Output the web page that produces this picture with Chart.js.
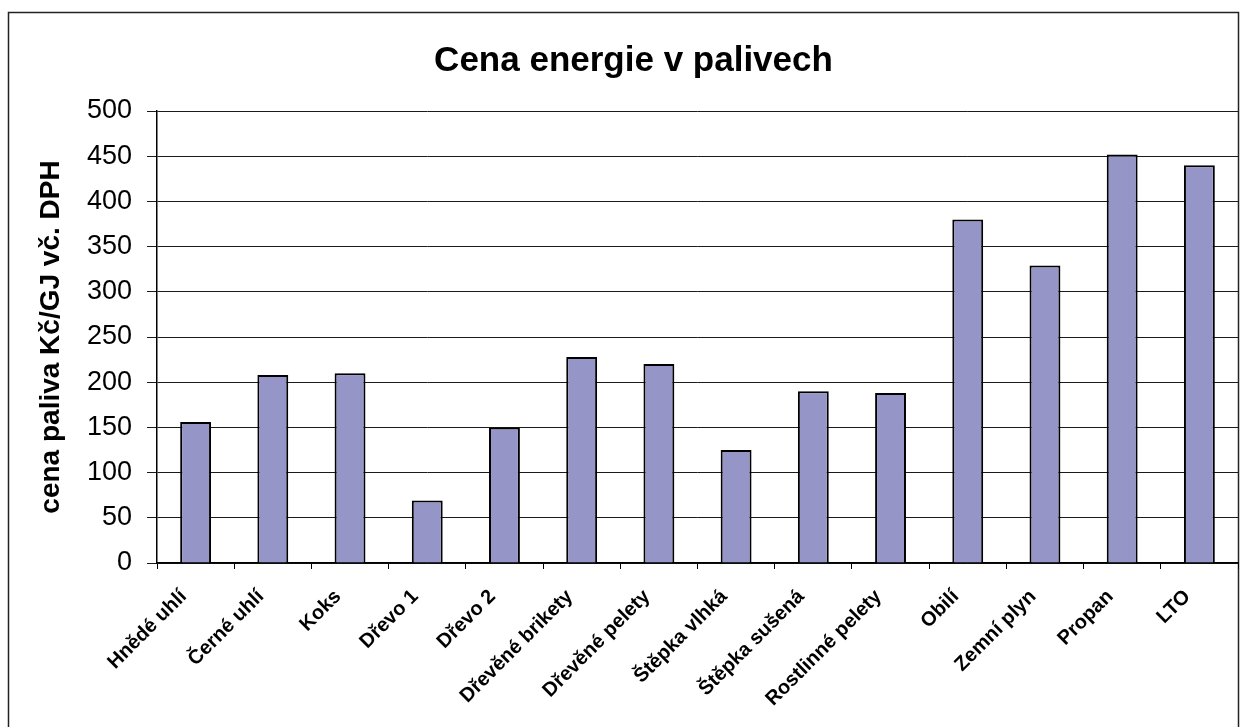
<!DOCTYPE html>
<html>
<head>
<meta charset="utf-8">
<title>Cena energie v palivech</title>
<script src="https://cdn.jsdelivr.net/npm/chart.js@4/dist/chart.umd.min.js"></script>
<style>
  html, body { margin: 0; padding: 0; background: #ffffff; }
  #wrap { width: 1241px; height: 727px; }
</style>
</head>
<body>
<div id="wrap"><canvas id="c" width="1241" height="727"></canvas></div>
<script>
// Fuel types and energy price (Kč per GJ incl. VAT)
const categories = [
  'Hnědé uhlí', 'Černé uhlí', 'Koks', 'Dřevo 1', 'Dřevo 2',
  'Dřevěné brikety', 'Dřevěné pelety', 'Štěpka vlhká', 'Štěpka sušená',
  'Rostlinné pelety', 'Obilí', 'Zemní plyn', 'Propan', 'LTO'
];
const prices = [156, 208, 210, 69, 150, 228, 220, 125, 190, 188, 380, 329, 452, 440];
const yTicks = [0, 50, 100, 150, 200, 250, 300, 350, 400, 450, 500];

const chartTitle = 'Cena energie v palivech';
const yAxisTitle = 'cena paliva Kč/GJ vč. DPH';

const FONT = "'Liberation Sans', Arial, sans-serif";

// Outer frame and white background
const framePlugin = {
  id: 'frame',
  beforeDraw(chart) {
    const ctx = chart.ctx;
    ctx.save();
    ctx.fillStyle = '#ffffff';
    ctx.fillRect(0, 0, chart.width, chart.height);
    ctx.strokeStyle = '#222222';
    ctx.lineWidth = 1.5;
    ctx.strokeRect(8.5, 12.5, 1230, 800);
    ctx.restore();
  }
};

// Chart heading, centred on the full chart frame
const headingPlugin = {
  id: 'heading',
  afterDraw(chart) {
    const ctx = chart.ctx;
    ctx.save();
    ctx.fillStyle = '#000000';
    ctx.font = "bold 35px " + FONT;
    ctx.textAlign = 'center';
    ctx.textBaseline = 'alphabetic';
    ctx.fillText(chartTitle, 633.5, 70.5);
    ctx.restore();
  }
};

new Chart(document.getElementById('c'), {
  type: 'bar',
  data: {
    labels: categories,
    datasets: [{
      data: prices,
      backgroundColor: '#9595C7',
      borderColor: '#000000',
      borderWidth: 2,
      barPercentage: 0.4,
      categoryPercentage: 1.0
    }]
  },
  options: {
    responsive: false,
    animation: false,
    devicePixelRatio: 1,
    layout: { padding: { left: 8, right: 3, top: 111, bottom: 0 } },
    plugins: {
      legend: { display: false },
      tooltip: { enabled: false },
      title: { display: false }
    },
    scales: {
      x: {
        grid: {
          display: true,
          offset: true,
          drawOnChartArea: false,
          drawTicks: true,
          tickLength: 6,
          color: '#000000',
          lineWidth: 1
        },
        border: { display: true, color: '#000000', width: 1.5 },
        ticks: {
          autoSkip: false,
          maxRotation: 45,
          minRotation: 45,
          padding: 16,
          labelOffset: -12,
          color: '#000000',
          font: { family: FONT, size: 20, weight: 'bold' }
        },
        afterFit(scale) { scale.height = 164; }
      },
      y: {
        min: 0,
        max: 500,
        afterBuildTicks(scale) { scale.ticks = yTicks.map(v => ({ value: v })); },
        grid: {
          color: '#1a1a1a',
          lineWidth: 1,
          drawTicks: true,
          tickLength: 10
        },
        border: { display: true, color: '#000000', width: 1.5 },
        ticks: {
          padding: 15,
          color: '#000000',
          font: { family: FONT, size: 27 }
        },
        title: {
          display: true,
          text: yAxisTitle,
          color: '#000000',
          font: { family: FONT, size: 28, weight: 'bold', lineHeight: 1.2 },
          padding: { top: 26, bottom: 0 }
        },
        afterFit(scale) { scale.width = 149; }
      }
    }
  },
  plugins: [framePlugin, headingPlugin]
});
</script>
</body>
</html>
